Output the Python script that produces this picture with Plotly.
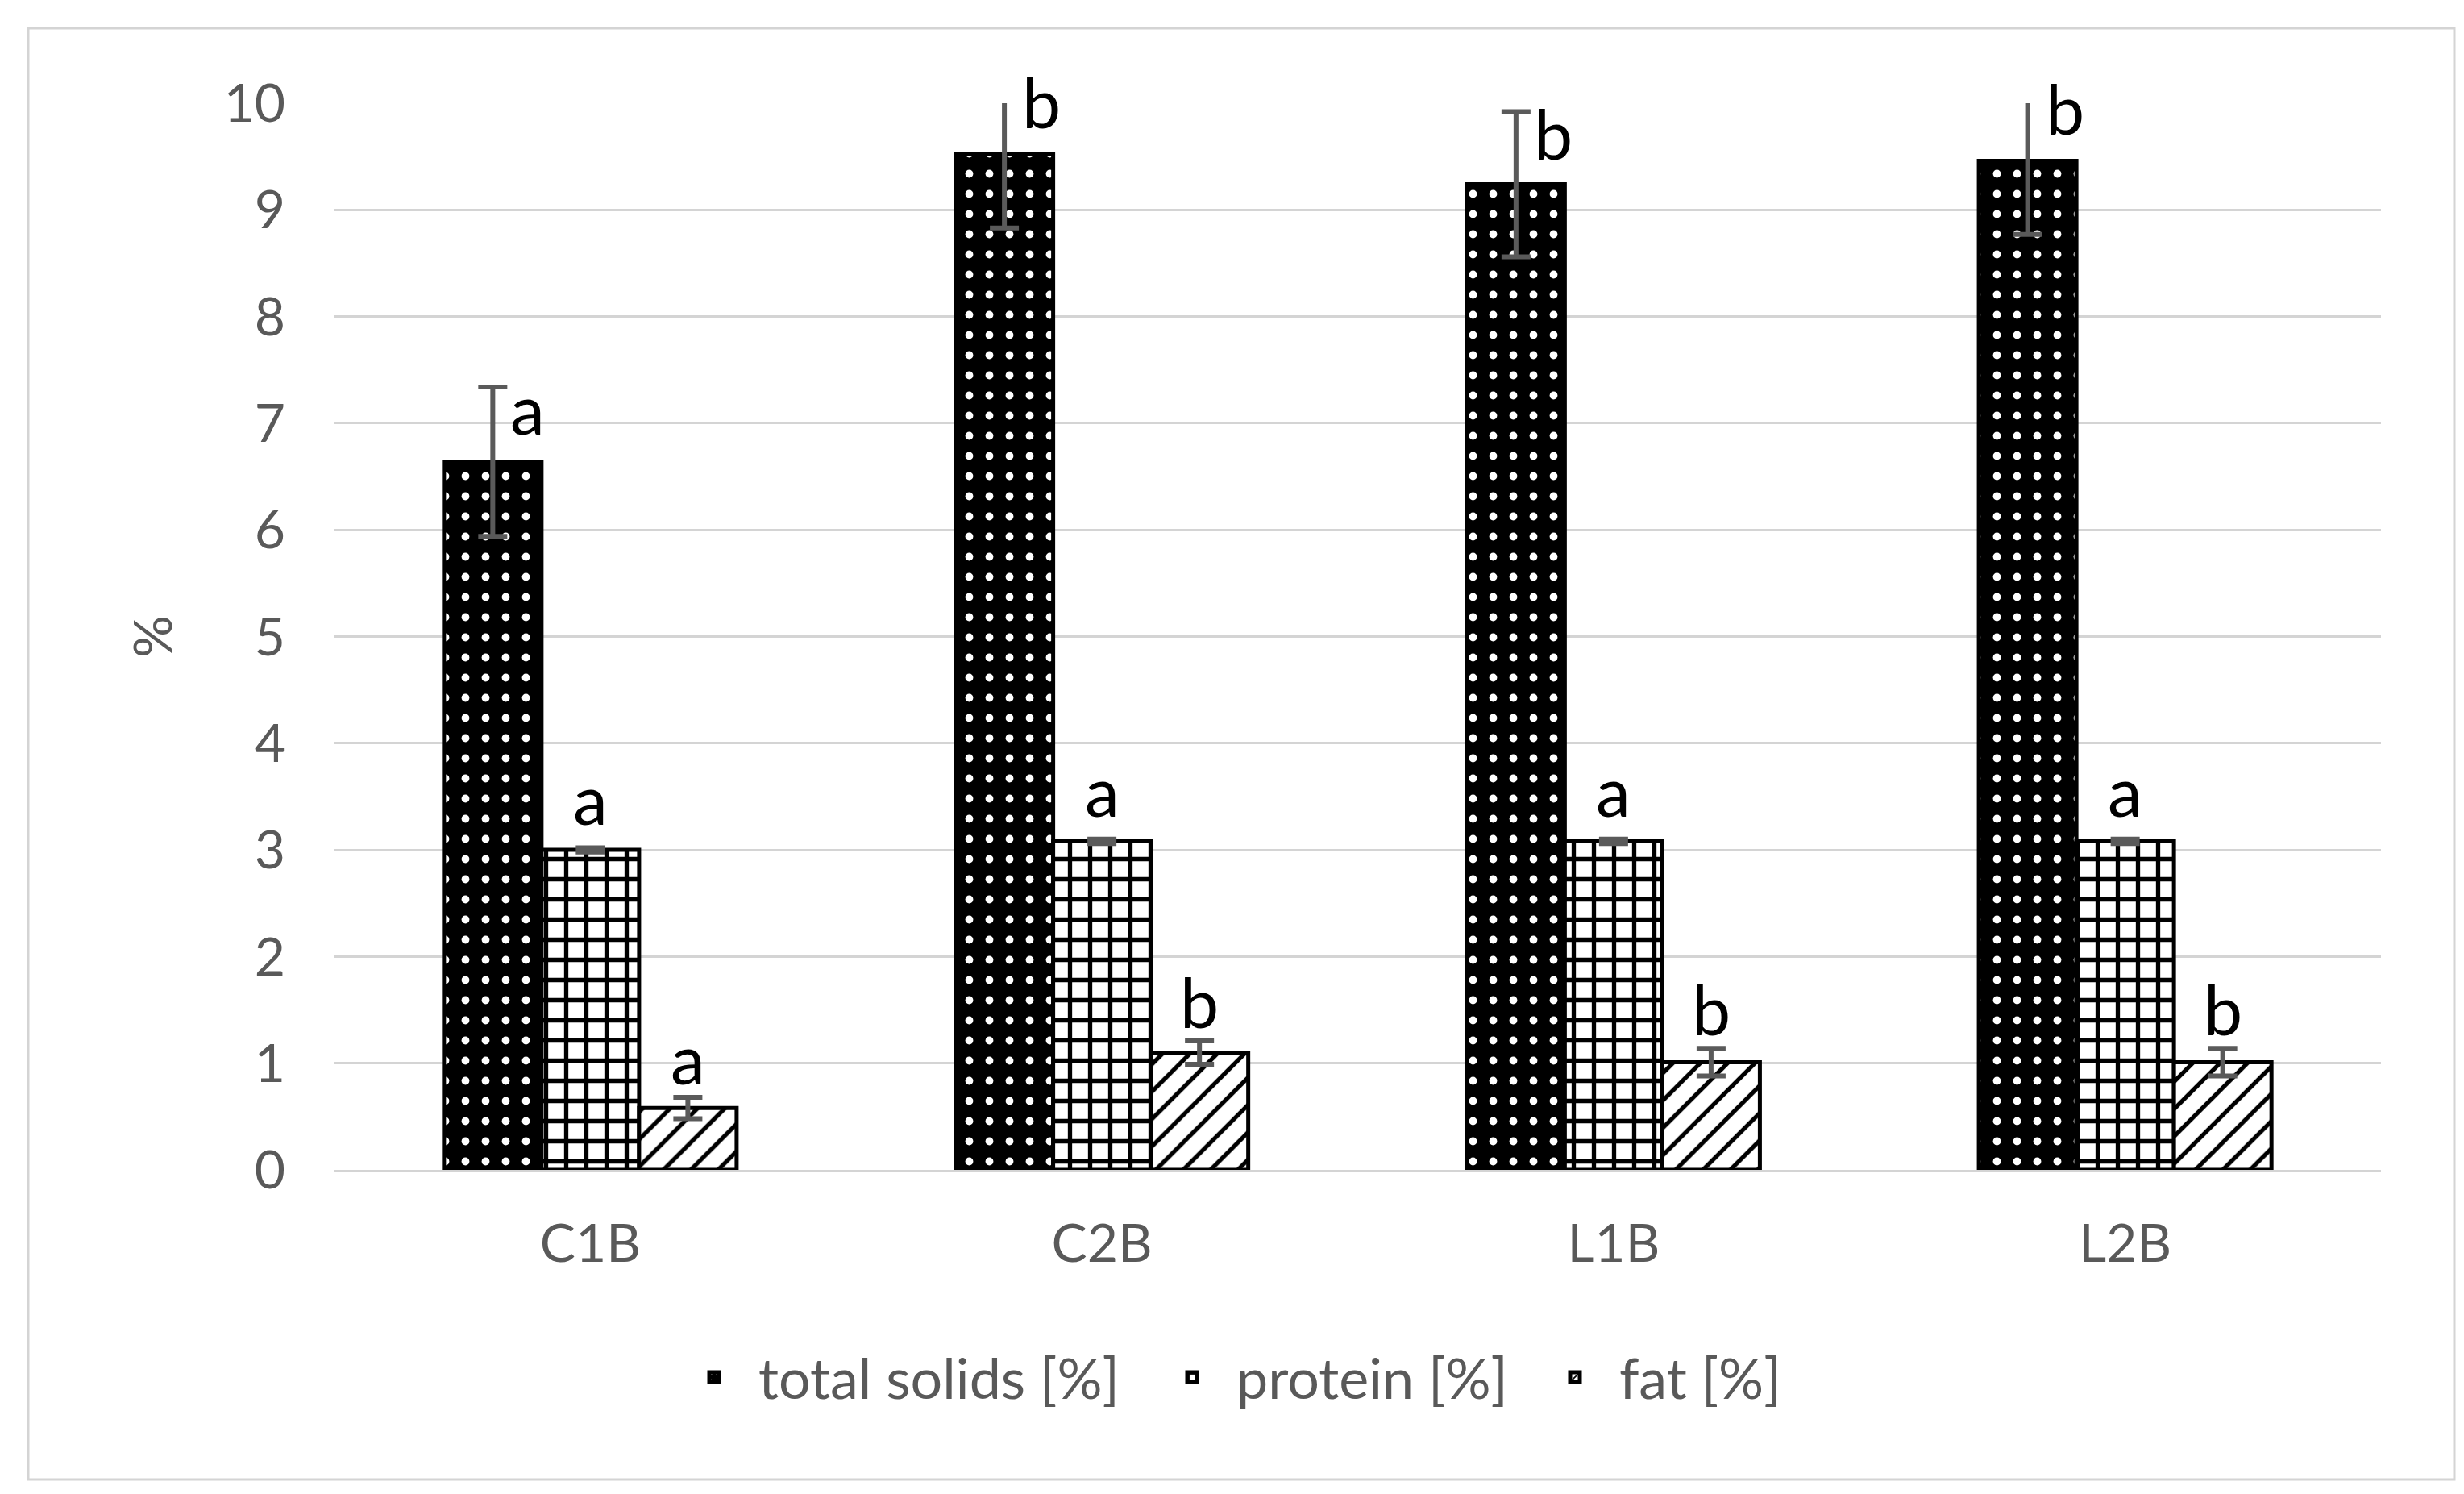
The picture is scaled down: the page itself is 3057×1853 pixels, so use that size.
import plotly.graph_objects as go

categories = ["C1B", "C2B", "L1B", "L2B"]
series_names = ["total solids [%]", "protein [%]", "fat [%]"]

total_solids = [6.64, 9.52, 9.24, 9.46]
total_solids_err = [0.70, 0.69, 0.68, 0.69]
protein = [3.00, 3.08, 3.08, 3.08]
protein_err = [0.02, 0.02, 0.02, 0.02]
fat = [0.58, 1.10, 1.01, 1.01]
fat_err = [0.10, 0.11, 0.13, 0.13]

total_letters = ["a", "b", "b", "b"]
protein_letters = ["a", "a", "a", "a"]
fat_letters = ["a", "b", "b", "b"]

y_ticks = [0, 1, 2, 3, 4, 5, 6, 7, 8, 9, 10]
y_range = [0, 10]

FONT = "Lato"
TXT = "#595959"
GRID = "#d4d4d4"
BARGAP = 0.428
W = 3057
H = 1853
ML, MR, MT, MB = 407, 111, 120, 410

values = [total_solids, protein, fat]
errors = [total_solids_err, protein_err, fat_err]
letters = [total_letters, protein_letters, fat_letters]
patterns = [
    dict(shape=".", fgcolor="white", bgcolor="black", size=25, solidity=0.12, fillmode="replace"),
    dict(shape="+", fgcolor="black", bgcolor="white", size=25, solidity=0.38, fillmode="replace"),
    dict(shape="/", fgcolor="black", bgcolor="white", size=24, solidity=0.22, fillmode="replace"),
]
fills = ["black", "white", "white"]
label_yshift = [28, 8, -4]
legend_ids = ["legend", "legend2", "legend3"]
legend_left_px = [823, 1416, 1891]

fig = go.Figure()
for k in range(3):
    fig.add_trace(go.Bar(
        name=series_names[k], x=categories, y=values[k], legend=legend_ids[k],
        marker=dict(color=fills[k], pattern=patterns[k], line=dict(color="black", width=5)),
        error_y=dict(type="data", array=errors[k], visible=True, color="#5a5a5a", thickness=6, width=18),
    ))

bw = (1 - BARGAP) / 3
span = y_range[1] - y_range[0]
annotations = []
for k in range(3):
    for i, cat in enumerate(categories):
        top = values[k][i] + errors[k][i]
        xpos = i + (k - 1) * bw
        ypos = (top - y_range[0]) / span
        if k == 0:
            annotations.append(dict(x=xpos, y=ypos, xref="x", yref="paper", text=letters[k][i],
                                    showarrow=False, xanchor="left", yanchor="top", xshift=20,
                                    yshift=label_yshift[k],
                                    font=dict(family=FONT, size=86, color="black")))
        else:
            annotations.append(dict(x=xpos, y=ypos, xref="x", yref="paper", text=letters[k][i],
                                    showarrow=False, xanchor="center", yanchor="bottom",
                                    yshift=label_yshift[k],
                                    font=dict(family=FONT, size=86, color="black")))

pw = W - ML - MR
ph = H - MT - MB
frame = dict(type="rect", xref="paper", yref="paper",
             x0=(27 - ML) / pw, x1=(3037 - ML) / pw,
             y0=((H - MB) - 1827) / ph, y1=((H - MB) - 27) / ph,
             line=dict(color=GRID, width=3), fillcolor="rgba(0,0,0,0)", layer="below")

legend_style = dict(orientation="h", xanchor="left", yanchor="middle",
                    y=((H - MB) - 1700) / ph,
                    font=dict(family=FONT, size=70, color=TXT), itemwidth=100)

fig.update_layout(
    width=W, height=H,
    margin=dict(l=ML, r=MR, t=MT, b=MB),
    paper_bgcolor="white", plot_bgcolor="white",
    barmode="group", bargap=BARGAP, bargroupgap=0,
    font=dict(family=FONT, size=66, color=TXT),
    showlegend=True,
    legend=dict(legend_style, x=(legend_left_px[0] - ML) / pw),
    legend2=dict(legend_style, x=(legend_left_px[1] - ML) / pw),
    legend3=dict(legend_style, x=(legend_left_px[2] - ML) / pw),
    annotations=annotations,
    shapes=[frame],
)
fig.update_xaxes(showgrid=False, showline=True, linecolor=GRID, linewidth=3, ticks="",
                 tickfont=dict(family=FONT, size=66, color=TXT), ticklabelstandoff=32)
fig.update_yaxes(range=y_range, tickvals=y_ticks, showgrid=True, gridcolor=GRID, gridwidth=3,
                 zeroline=False, showline=False, ticks="",
                 tickfont=dict(family=FONT, size=66, color=TXT), ticklabelstandoff=60,
                 title=dict(text="%", font=dict(family=FONT, size=66, color=TXT), standoff=42))

fig.write_html("out.html")
